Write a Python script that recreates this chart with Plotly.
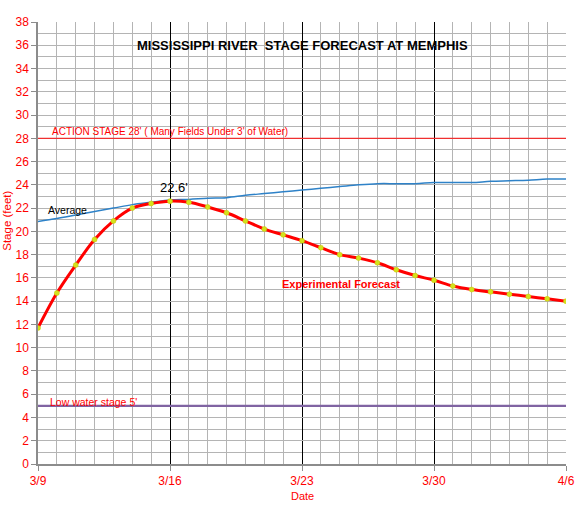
import pandas as pd
import plotly.graph_objects as go

# daily dates, 3/9 through 4/6
DATES = pd.date_range("2013-03-09", "2013-04-06", freq="D")
WEEK_TICKS = ["2013-03-09", "2013-03-16", "2013-03-23", "2013-03-30", "2013-04-06"]
WEEK_LABELS = ["3/9", "3/16", "3/23", "3/30", "4/6"]

FORECAST = [11.7, 14.7, 17.1, 19.3, 20.9, 22.0, 22.4, 22.6, 22.5, 22.1,
            21.6, 20.9, 20.2, 19.7, 19.2, 18.6, 18.0, 17.7, 17.3, 16.7,
            16.2, 15.8, 15.3, 15.0, 14.8, 14.6, 14.4, 14.2, 14.0]
AVERAGE = [20.85, 21.1, 21.4, 21.7, 22.0, 22.3, 22.5, 22.7, 22.75, 22.85,
           22.9, 23.1, 23.25, 23.4, 23.55, 23.7, 23.85, 24.0, 24.1, 24.1,
           24.1, 24.2, 24.2, 24.2, 24.3, 24.35, 24.4, 24.5, 24.5]
ACTION_STAGE = 28
LOW_STAGE = 5
CREST = 22.6

FONT = "Liberation Sans"
RED = "#FF0000"
GRID = "#B4B4B4"

fig = go.Figure()
fig.add_trace(go.Scatter(x=DATES, y=[ACTION_STAGE] * len(DATES), mode="lines",
                         line=dict(color="#F03030", width=1.3), hoverinfo="skip"))
fig.add_trace(go.Scatter(x=DATES, y=[LOW_STAGE] * len(DATES), mode="lines",
                         line=dict(color="#8064A2", width=2.2), hoverinfo="skip"))
fig.add_trace(go.Scatter(x=DATES, y=AVERAGE, mode="lines",
                         line=dict(color="#2E82C8", width=1.5, shape="spline")))
fig.add_trace(go.Scatter(x=DATES, y=FORECAST, mode="lines+markers",
                         line=dict(color=RED, width=3, shape="spline"),
                         marker=dict(color="#D4E21E", size=5,
                                     line=dict(color="#C8C800", width=0.5))))

notes = [
    dict(x=0.5, y=0.947, xref="paper", yref="paper", xanchor="center",
         text="<b>MISSISSIPPI RIVER\u00a0 STAGE FORECAST AT MEMPHIS</b>",
         font=dict(size=13, color="black")),
    dict(x=0.022, y=ACTION_STAGE, xref="paper", yref="y", xanchor="left",
         yshift=7, text="ACTION STAGE 28' ( Many Fields Under 3' of Water)",
         font=dict(size=10, color=RED)),
    dict(x=WEEK_TICKS[1], y=CREST, xanchor="center", yanchor="bottom", yshift=4, xshift=4,
         text="22.6'", font=dict(size=13, color="black")),
    dict(x=0.015, y=21.8, xref="paper", yref="y", xanchor="left",
         text="Average", font=dict(size=10.5, color="black")),
    dict(x=0.458, y=15.45, xref="paper", yref="y", xanchor="left",
         text="<b>Experimental Forecast</b>", font=dict(size=11, color=RED)),
    dict(x=0.018, y=LOW_STAGE, xref="paper", yref="y", xanchor="left",
         yshift=4, text="Low water stage 5'", font=dict(size=10.5, color=RED)),
    dict(x=-0.059, y=0.55, xref="paper", yref="paper", xanchor="center", textangle=-90,
         text="Stage (feet)", font=dict(size=11.5, color=RED)),
    dict(x=0.5, y=-0.072, xref="paper", yref="paper", xanchor="center",
         text="Date", font=dict(size=11, color=RED)),
]
for n in notes:
    n.setdefault("showarrow", False)
    n.setdefault("yanchor", "middle")
    fig.add_annotation(**n)

fig.update_xaxes(
    type="date", range=[WEEK_TICKS[0], WEEK_TICKS[-1]],
    tickvals=WEEK_TICKS, ticktext=WEEK_LABELS,
    tickfont=dict(size=12, color=RED),
    showgrid=True, gridcolor="black", gridwidth=1.2,
    minor=dict(dtick=86400000, showgrid=True, gridcolor=GRID, gridwidth=1),
    showline=True, linecolor="#8C8C8C", linewidth=1.5,
    ticks="outside", ticklen=5, tickcolor="#8C8C8C",
    zeroline=False,
)
fig.update_yaxes(
    range=[0, 38], dtick=2, tick0=0,
    tickfont=dict(size=12, color=RED),
    showgrid=True, gridcolor=GRID, gridwidth=1,
    minor=dict(dtick=1, showgrid=True, gridcolor=GRID, gridwidth=1),
    showline=True, linecolor="#8C8C8C", linewidth=1.5,
    ticks="outside", ticklen=5, tickcolor="#8C8C8C",
    zeroline=False,
)
fig.update_layout(
    width=588, height=506,
    margin=dict(l=38, r=22, t=22, b=42),
    plot_bgcolor="white", paper_bgcolor="white",
    font=dict(family=FONT),
    showlegend=False,
)
# drop the page's default body margin so the figure sits at the top-left corner
fig.write_html("out.html", config={"displayModeBar": False},
               post_script="document.body.style.margin='0';")
